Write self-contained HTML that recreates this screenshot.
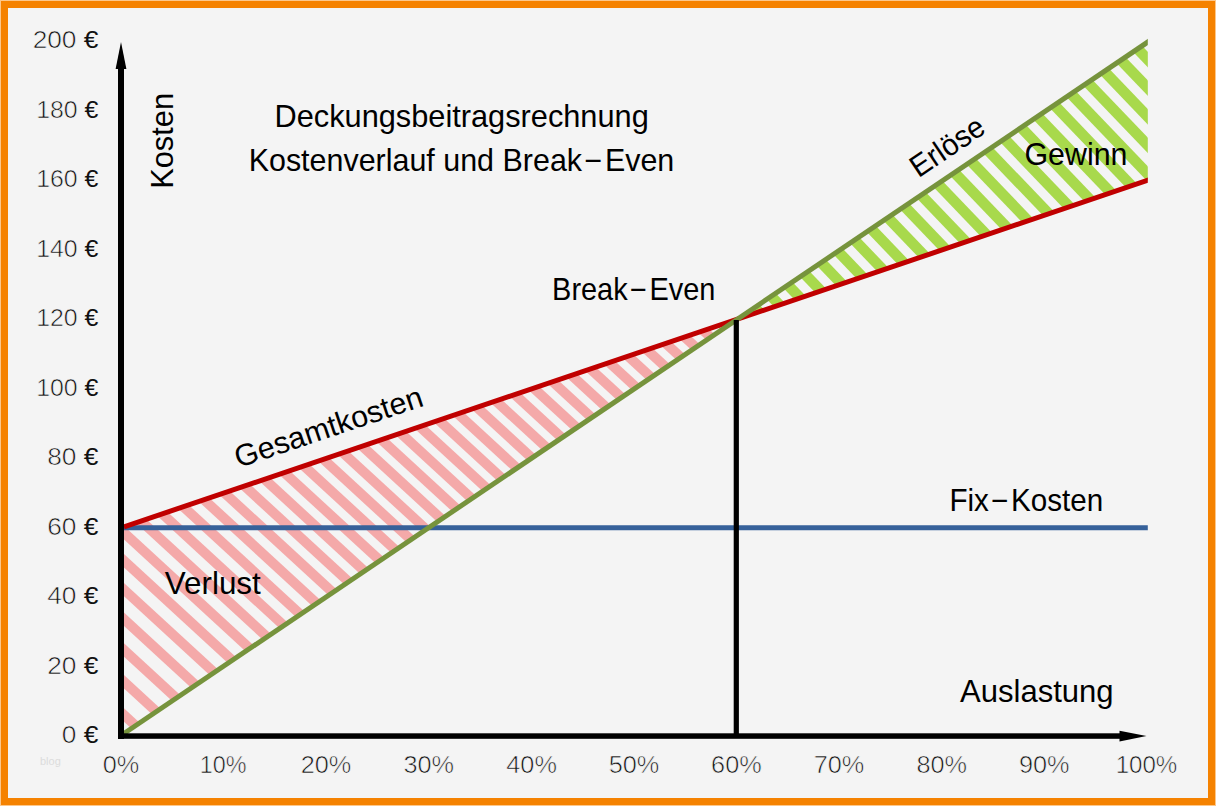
<!DOCTYPE html>
<html><head><meta charset="utf-8">
<style>
html,body{margin:0;padding:0;width:1216px;height:806px;overflow:hidden;background:#fdc78a;}
svg{position:absolute;left:0;top:0;display:block;}
text{font-family:"Liberation Sans",sans-serif;}
.thin{stroke:#f4f4f4;stroke-width:0.6;paint-order:normal;}
</style></head>
<body>
<svg width="1216" height="806" viewBox="0 0 1216 806">
<defs>
</defs>
<rect x="1" y="1" width="1214" height="804" fill="#f58200"/>
<rect x="8" y="8" width="1200" height="790" fill="#f4f4f4"/>
<clipPath id="cr"><polygon points="124,526.8 735.7,319.9 121,735.5 124,735.5"/></clipPath>
<clipPath id="cg"><polygon points="735.7,319.9 1147.8,42.0 1147.8,180.3"/></clipPath>
<g clip-path="url(#cr)" fill="#f4a9a9">
<polygon points="-548.45,300.00 -533.85,300.00 -50.14,745.00 -64.74,745.00"/>
<polygon points="-499.95,300.00 -485.35,300.00 -1.64,745.00 -16.24,745.00"/>
<polygon points="-454.75,300.00 -440.15,300.00 43.57,745.00 28.97,745.00"/>
<polygon points="-412.37,300.00 -397.77,300.00 85.95,745.00 71.35,745.00"/>
<polygon points="-372.40,300.00 -357.80,300.00 125.92,745.00 111.32,745.00"/>
<polygon points="-334.49,300.00 -319.89,300.00 163.83,745.00 149.23,745.00"/>
<polygon points="-298.35,300.00 -283.75,300.00 199.97,745.00 185.37,745.00"/>
<polygon points="-263.71,300.00 -249.11,300.00 234.60,745.00 220.00,745.00"/>
<polygon points="-230.37,300.00 -215.77,300.00 267.94,745.00 253.34,745.00"/>
<polygon points="-198.13,300.00 -183.53,300.00 300.18,745.00 285.58,745.00"/>
<polygon points="-166.84,300.00 -152.24,300.00 331.47,745.00 316.87,745.00"/>
<polygon points="-136.36,300.00 -121.76,300.00 361.96,745.00 347.36,745.00"/>
<polygon points="-106.56,300.00 -91.96,300.00 391.75,745.00 377.15,745.00"/>
<polygon points="-77.36,300.00 -62.76,300.00 420.95,745.00 406.35,745.00"/>
<polygon points="-48.67,300.00 -34.07,300.00 449.65,745.00 435.05,745.00"/>
<polygon points="-20.40,300.00 -5.80,300.00 477.91,745.00 463.31,745.00"/>
<polygon points="7.49,300.00 22.09,300.00 505.81,745.00 491.21,745.00"/>
<polygon points="35.07,300.00 49.67,300.00 533.38,745.00 518.78,745.00"/>
<polygon points="62.37,300.00 76.97,300.00 560.69,745.00 546.09,745.00"/>
<polygon points="89.45,300.00 104.05,300.00 587.76,745.00 573.16,745.00"/>
<polygon points="116.32,300.00 130.92,300.00 614.64,745.00 600.04,745.00"/>
<polygon points="143.03,300.00 157.63,300.00 641.35,745.00 626.75,745.00"/>
<polygon points="169.59,300.00 184.19,300.00 667.91,745.00 653.31,745.00"/>
<polygon points="196.03,300.00 210.63,300.00 694.35,745.00 679.75,745.00"/>
<polygon points="222.36,300.00 236.96,300.00 720.68,745.00 706.08,745.00"/>
<polygon points="248.61,300.00 263.21,300.00 746.92,745.00 732.32,745.00"/>
<polygon points="274.77,300.00 289.37,300.00 773.08,745.00 758.48,745.00"/>
<polygon points="300.87,300.00 315.47,300.00 799.18,745.00 784.58,745.00"/>
<polygon points="326.91,300.00 341.51,300.00 825.22,745.00 810.62,745.00"/>
<polygon points="352.90,300.00 367.50,300.00 851.21,745.00 836.61,745.00"/>
<polygon points="378.85,300.00 393.45,300.00 877.17,745.00 862.57,745.00"/>
<polygon points="404.77,300.00 419.37,300.00 903.08,745.00 888.48,745.00"/>
<polygon points="430.65,300.00 445.25,300.00 928.96,745.00 914.36,745.00"/>
<polygon points="456.51,300.00 471.11,300.00 954.82,745.00 940.22,745.00"/>
<polygon points="482.35,300.00 496.95,300.00 980.66,745.00 966.06,745.00"/>
<polygon points="508.16,300.00 522.76,300.00 1006.48,745.00 991.88,745.00"/>
<polygon points="533.96,300.00 548.56,300.00 1032.28,745.00 1017.68,745.00"/>
<polygon points="559.75,300.00 574.35,300.00 1058.07,745.00 1043.47,745.00"/>
<polygon points="585.53,300.00 600.13,300.00 1083.84,745.00 1069.24,745.00"/>
<polygon points="611.29,300.00 625.89,300.00 1109.61,745.00 1095.01,745.00"/>
<polygon points="637.05,300.00 651.65,300.00 1135.36,745.00 1120.76,745.00"/>
<polygon points="662.80,300.00 677.40,300.00 1161.11,745.00 1146.51,745.00"/>
<polygon points="688.54,300.00 703.14,300.00 1186.85,745.00 1172.25,745.00"/>
<polygon points="714.28,300.00 728.88,300.00 1212.59,745.00 1197.99,745.00"/>
<polygon points="740.01,300.00 754.61,300.00 1238.32,745.00 1223.72,745.00"/>
<polygon points="765.74,300.00 780.34,300.00 1264.05,745.00 1249.45,745.00"/>
<polygon points="791.46,300.00 806.06,300.00 1289.78,745.00 1275.18,745.00"/>
<polygon points="817.19,300.00 831.79,300.00 1315.50,745.00 1300.90,745.00"/>
<polygon points="842.91,300.00 857.51,300.00 1341.22,745.00 1326.62,745.00"/>
<polygon points="868.62,300.00 883.22,300.00 1366.94,745.00 1352.34,745.00"/>
<polygon points="894.34,300.00 908.94,300.00 1392.65,745.00 1378.05,745.00"/>
<polygon points="920.05,300.00 934.65,300.00 1418.37,745.00 1403.77,745.00"/>
</g>
<g clip-path="url(#cg)" fill="#a8d94c">
<polygon points="316.76,30.00 331.56,30.00 618.96,330.00 604.16,330.00"/>
<polygon points="344.18,30.00 358.98,30.00 646.38,330.00 631.58,330.00"/>
<polygon points="371.61,30.00 386.41,30.00 673.81,330.00 659.01,330.00"/>
<polygon points="399.04,30.00 413.84,30.00 701.24,330.00 686.44,330.00"/>
<polygon points="426.47,30.00 441.27,30.00 728.66,330.00 713.87,330.00"/>
<polygon points="453.89,30.00 468.69,30.00 756.09,330.00 741.29,330.00"/>
<polygon points="481.32,30.00 496.12,30.00 783.52,330.00 768.72,330.00"/>
<polygon points="508.75,30.00 523.55,30.00 810.95,330.00 796.15,330.00"/>
<polygon points="536.17,30.00 550.97,30.00 838.37,330.00 823.57,330.00"/>
<polygon points="563.60,30.00 578.40,30.00 865.80,330.00 851.00,330.00"/>
<polygon points="591.03,30.00 605.83,30.00 893.23,330.00 878.43,330.00"/>
<polygon points="618.45,30.00 633.25,30.00 920.65,330.00 905.85,330.00"/>
<polygon points="645.88,30.00 660.68,30.00 948.08,330.00 933.28,330.00"/>
<polygon points="673.31,30.00 688.11,30.00 975.51,330.00 960.71,330.00"/>
<polygon points="700.74,30.00 715.53,30.00 1002.93,330.00 988.13,330.00"/>
<polygon points="728.16,30.00 742.96,30.00 1030.36,330.00 1015.56,330.00"/>
<polygon points="755.59,30.00 770.39,30.00 1057.79,330.00 1042.99,330.00"/>
<polygon points="783.02,30.00 797.82,30.00 1085.22,330.00 1070.42,330.00"/>
<polygon points="810.44,30.00 825.24,30.00 1112.64,330.00 1097.84,330.00"/>
<polygon points="837.87,30.00 852.67,30.00 1140.07,330.00 1125.27,330.00"/>
<polygon points="865.30,30.00 880.10,30.00 1167.50,330.00 1152.70,330.00"/>
<polygon points="892.72,30.00 907.52,30.00 1194.92,330.00 1180.12,330.00"/>
<polygon points="920.15,30.00 934.95,30.00 1222.35,330.00 1207.55,330.00"/>
<polygon points="947.58,30.00 962.38,30.00 1249.78,330.00 1234.98,330.00"/>
<polygon points="975.00,30.00 989.80,30.00 1277.20,330.00 1262.40,330.00"/>
<polygon points="1002.43,30.00 1017.23,30.00 1304.63,330.00 1289.83,330.00"/>
<polygon points="1029.86,30.00 1044.66,30.00 1332.06,330.00 1317.26,330.00"/>
<polygon points="1057.29,30.00 1072.09,30.00 1359.49,330.00 1344.69,330.00"/>
<polygon points="1084.71,30.00 1099.51,30.00 1386.91,330.00 1372.11,330.00"/>
<polygon points="1112.14,30.00 1126.94,30.00 1414.34,330.00 1399.54,330.00"/>
<polygon points="1139.57,30.00 1154.37,30.00 1441.77,330.00 1426.97,330.00"/>
<polygon points="1166.99,30.00 1181.79,30.00 1469.19,330.00 1454.39,330.00"/>
</g>
<clipPath id="cl"><rect x="0" y="0" width="1147.8" height="806"/></clipPath><g clip-path="url(#cl)">
<line x1="124" y1="527.8" x2="1150" y2="527.8" stroke="#36619a" stroke-width="5"/>
<line x1="124" y1="526.8" x2="1152" y2="178.88" stroke="#c00000" stroke-width="5"/>
<line x1="121" y1="735.5" x2="1152" y2="39.16" stroke="#76933c" stroke-width="5"/>
</g>
<line x1="736.3" y1="320" x2="736.3" y2="736" stroke="#000" stroke-width="5.2"/>
<rect x="118" y="66" width="6" height="673" fill="#000"/>
<polygon points="121,42 115.6,69 126.4,69" fill="#000"/>
<rect x="118" y="733.3" width="1003" height="5.5" fill="#000"/>
<polygon points="1146.5,736 1119.5,730.8 1119.5,741.4" fill="#000"/>
<g fill="#111">
<text transform="translate(32.63,48.30) scale(1.1100,1)" font-size="23.7"><tspan class="thin">200 </tspan>€</text>
<text transform="translate(36.16,117.80) scale(1.0500,1)" font-size="23.7"><tspan class="thin">180 </tspan>€</text>
<text transform="translate(36.16,187.29) scale(1.0500,1)" font-size="23.7"><tspan class="thin">160 </tspan>€</text>
<text transform="translate(36.16,256.80) scale(1.0500,1)" font-size="23.7"><tspan class="thin">140 </tspan>€</text>
<text transform="translate(36.16,326.30) scale(1.0500,1)" font-size="23.7"><tspan class="thin">120 </tspan>€</text>
<text transform="translate(36.16,395.80) scale(1.0500,1)" font-size="23.7"><tspan class="thin">100 </tspan>€</text>
<text transform="translate(47.23,465.30) scale(1.1100,1)" font-size="23.7"><tspan class="thin">80 </tspan>€</text>
<text transform="translate(47.23,534.79) scale(1.1100,1)" font-size="23.7"><tspan class="thin">60 </tspan>€</text>
<text transform="translate(47.23,604.29) scale(1.1100,1)" font-size="23.7"><tspan class="thin">40 </tspan>€</text>
<text transform="translate(47.23,673.79) scale(1.1100,1)" font-size="23.7"><tspan class="thin">20 </tspan>€</text>
<text transform="translate(61.83,743.29) scale(1.1100,1)" font-size="23.7"><tspan class="thin">0 </tspan>€</text>
<text class="thin" transform="translate(102.67,773.30) scale(1.0900,1)" font-size="23.2">0%</text>
<text class="thin" transform="translate(199.77,773.30) scale(1.0070,1)" font-size="23.2">10%</text>
<text class="thin" transform="translate(300.72,773.30) scale(1.0900,1)" font-size="23.2">20%</text>
<text class="thin" transform="translate(403.45,773.30) scale(1.0900,1)" font-size="23.2">30%</text>
<text class="thin" transform="translate(506.30,773.30) scale(1.0900,1)" font-size="23.2">40%</text>
<text class="thin" transform="translate(608.65,773.30) scale(1.0900,1)" font-size="23.2">50%</text>
<text class="thin" transform="translate(711.12,773.30) scale(1.0900,1)" font-size="23.2">60%</text>
<text class="thin" transform="translate(813.72,773.30) scale(1.0900,1)" font-size="23.2">70%</text>
<text class="thin" transform="translate(916.39,773.30) scale(1.0900,1)" font-size="23.2">80%</text>
<text class="thin" transform="translate(1018.99,773.30) scale(1.0900,1)" font-size="23.2">90%</text>
<text class="thin" transform="translate(1115.63,773.30) scale(1.0400,1)" font-size="23.2">100%</text>
</g>
<g fill="#000">
<text transform="translate(274.54,126.60) scale(1.0084,1)" font-size="30.5">Deckungsbeitragsrechnung</text>
<text transform="translate(248.66,170.70) scale(0.9982,1)" font-size="30.5">Kostenverlauf und Break − Even</text>
<text transform="translate(552.09,300.20) scale(0.9487,1)" font-size="30.5">Break − Even</text>
<text transform="translate(1024.48,164.70) scale(0.9961,1)" font-size="30.5">Gewinn</text>
<text transform="translate(949.43,510.50) scale(0.9706,1)" font-size="30.5">Fix − Kosten</text>
<text transform="translate(164.84,594.20) scale(1.0294,1)" font-size="30.5">Verlust</text>
<text transform="translate(960.00,701.80) scale(1.0185,1)" font-size="30.5">Auslastung</text>
<text transform="translate(172.80,188.87) rotate(-90) scale(1.0120,1)" font-size="30.5">Kosten</text>
<text transform="translate(918.56,178.31) rotate(-34) scale(0.9600,1)" font-size="30.5">Erlöse</text>
<text transform="translate(238.55,467.98) rotate(-18.5) scale(1.0000,1)" font-size="30.5">Gesamtkosten</text>
</g>
<text x="40" y="765" font-size="11" fill="#dcdcdc">blog</text>
</svg>
</body></html>
